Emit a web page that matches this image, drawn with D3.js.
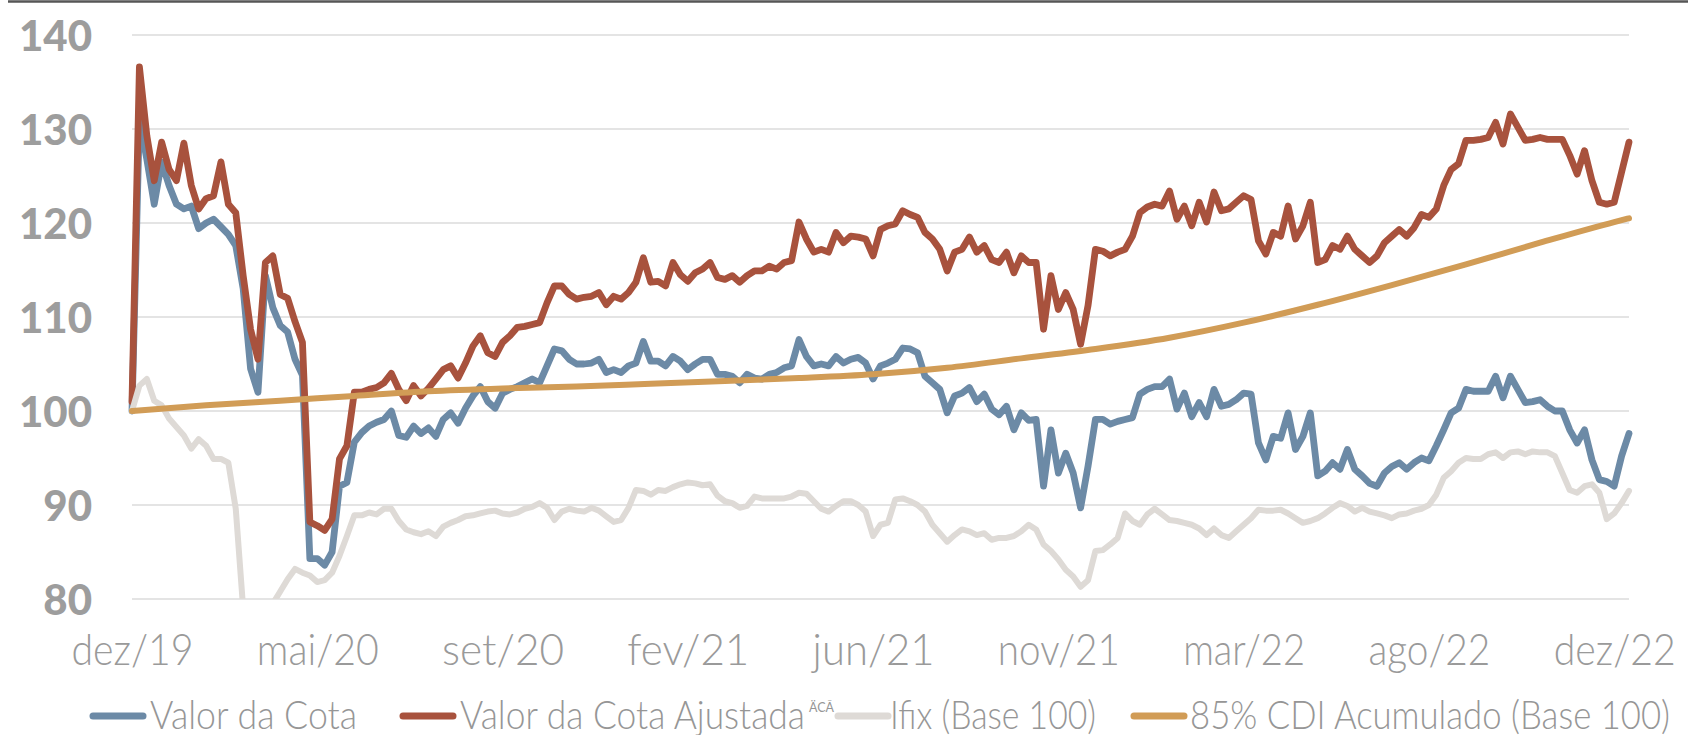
<!DOCTYPE html>
<html>
<head>
<meta charset="utf-8">
<script src="https://cdn.jsdelivr.net/npm/d3@7"></script>
<style>
  body { margin: 0; background: #fff; }
  text { font-family: Lato, "Open Sans", sans-serif; }
</style>
</head>
<body>
<svg id="chart" width="1688" height="735"></svg>
<script>
// series, one value per sample (203 samples, dez/19 .. dez/22)
var valorCota = [
  100, 131, 126.8, 122, 126.5, 124, 122, 121.5, 121.8, 119.4,
  120, 120.4, 119.6, 118.8, 117.6, 113, 104.5, 102, 114.4, 111,
  109.1, 108.4, 105.5, 103.8, 84.3, 84.3, 83.6, 85, 92, 92.4,
  96.7, 97.7, 98.4, 98.8, 99.1, 100, 97.4, 97.2, 98.4, 97.6,
  98.2, 97.3, 99.1, 99.8, 98.7, 100.3, 101.6, 102.6, 101, 100.3,
  101.9, 102.3, 102.6, 103, 103.4, 103, 104.8, 106.6, 106.4, 105.5,
  105, 105, 105.1, 105.5, 104.1, 104.4, 104.1, 104.8, 105.1, 107.4,
  105.3, 105.3, 104.8, 105.8, 105.3, 104.4, 105, 105.5, 105.5, 103.9,
  103.9, 103.7, 103, 103.9, 103.5, 103.4, 103.9, 104.1, 104.6, 104.8,
  107.6, 105.8, 104.8, 105, 104.8, 105.8, 105.1, 105.5, 105.7, 105.1,
  103.4, 104.8, 105.1, 105.5, 106.7, 106.6, 106.2, 103.7, 103, 102.3,
  99.8, 101.6, 101.9, 102.5, 101, 101.8, 100.2, 99.6, 100.5, 98,
  99.8, 99, 99.1, 92, 98, 93.4, 95.5, 93.4, 89.7, 94.1,
  99.1, 99.1, 98.6, 98.9, 99.1, 99.3, 101.8, 102.3, 102.6, 102.6,
  103.4, 100.2, 101.9, 99.4, 100.9, 99.4, 102.3, 100.5, 100.7, 101.2,
  101.9, 101.8, 96.6, 94.8, 97.3, 97.1, 99.8, 95.9, 97.3, 99.8,
  93.1, 93.6, 94.5, 93.8, 95.9, 93.8, 93.1, 92.3, 92, 93.4,
  94.1, 94.5, 93.8, 94.5, 95, 94.7, 96.3, 98, 99.8, 100.3,
  102.3, 102.1, 102.1, 102.1, 103.7, 101.4, 103.7, 102.3, 100.9, 101,
  101.2, 100.5, 100, 100, 98, 96.6, 98, 94.8, 92.7, 92.5,
  92, 95.2, 97.6
];
var cotaAjustada = [
  101, 136.6, 129.3, 124.5, 128.6, 125.7, 124.5, 128.5, 124, 121.5,
  122.6, 122.9, 126.5, 122, 121.1, 114.4, 108.7, 105.5, 115.8, 116.5,
  112.4, 112, 109.5, 107.3, 88.2, 87.8, 87.3, 88.5, 94.9, 96.3,
  102, 102, 102.3, 102.5, 103, 104, 102.3, 101.1, 102.7, 101.6,
  102.4, 103.4, 104.4, 104.8, 103.5, 105.1, 106.9, 108, 106.2, 105.8,
  107.3, 108, 108.9, 109, 109.2, 109.4, 111.5, 113.3, 113.3, 112.4,
  111.9, 112.1, 112.2, 112.6, 111.3, 112.2, 111.9, 112.6, 113.7, 116.3,
  113.7, 113.8, 113.3, 115.8, 114.5, 113.8, 114.7, 115.1, 115.8, 114.2,
  114, 114.4, 113.7, 114.4, 114.9, 114.9, 115.4, 115.1, 115.8, 116,
  120.1, 118.3, 116.9, 117.2, 116.9, 119, 117.9, 118.6, 118.5, 118.3,
  116.5, 119.3, 119.7, 119.9, 121.3, 120.9, 120.6, 119, 118.3, 117.2,
  114.9, 116.9, 117.2, 118.5, 116.9, 117.6, 116.1, 115.8, 116.9, 114.7,
  116.5, 115.8, 115.8, 108.7, 114.4, 110.8, 112.6, 110.8, 107.1, 111.2,
  117.2, 117, 116.5, 116.9, 117.2, 118.6, 121.1, 121.7, 122, 121.8,
  123.4, 120.4, 121.8, 119.7, 122.2, 120.1, 123.3, 121.3, 121.5, 122.2,
  122.9, 122.5, 118.1, 116.7, 119, 118.6, 121.8, 118.3, 119.7, 122.2,
  115.8, 116.1, 117.6, 117.2, 118.6, 117.2, 116.5, 115.8, 116.5, 117.9,
  118.6, 119.3, 118.6, 119.5, 120.9, 120.6, 121.5, 124, 125.7, 126.3,
  128.8, 128.8, 128.9, 129.1, 130.7, 128.4, 131.6, 130.2, 128.8, 128.9,
  129.1, 128.9, 128.9, 128.9, 127.2, 125.2, 127.7, 124.5, 122.2, 122,
  122.2, 125.4, 128.6
];
var ifix = [
  100, 102.7, 103.4, 101.1, 100.6, 99.2, 98.3, 97.4, 96, 97,
  96.3, 94.9, 94.9, 94.5, 89.6, 79, 75, 73, 74, 79.5,
  80.8, 82.1, 83.2, 82.8, 82.5, 81.8, 82, 82.8, 84.6, 86.7,
  88.9, 88.9, 89.2, 89, 89.6, 89.6, 88.3, 87.4, 87.1, 86.9,
  87.2, 86.7, 87.7, 88.1, 88.4, 88.8, 88.9, 89.1, 89.3, 89.4,
  89.1, 89, 89.2, 89.6, 89.8, 90.2, 89.7, 88.4, 89.3, 89.6,
  89.4, 89.3, 89.7, 89.4, 88.8, 88.2, 88.4, 89.7, 91.6, 91.5,
  91.1, 91.6, 91.5, 91.9, 92.2, 92.4, 92.3, 92.1, 92.2, 91,
  90.4, 90.2, 89.7, 89.9, 90.9, 90.7, 90.7, 90.7, 90.7, 90.9,
  91.3, 91.2, 90.4, 89.6, 89.3, 89.9, 90.4, 90.4, 90, 89.3,
  86.7, 87.9, 88.1, 90.6, 90.7, 90.4, 90, 89.3, 87.9, 87,
  86.1, 86.8, 87.4, 87.2, 86.8, 87, 86.3, 86.5, 86.5, 86.7,
  87.2, 87.9, 87.4, 85.8, 85.1, 84.2, 83.1, 82.4, 81.3, 82,
  85.1, 85.2, 85.8, 86.5, 89.1, 88.3, 87.9, 89, 89.6, 89,
  88.4, 88.3, 88.1, 87.9, 87.5, 86.8, 87.5, 86.8, 86.5, 87.2,
  87.9, 88.6, 89.5, 89.4, 89.4, 89.5, 89.1, 88.6, 88.1, 88.3,
  88.6, 89.1, 89.7, 90.2, 89.9, 89.3, 89.7, 89.3, 89.1, 88.9,
  88.6, 89, 89.1, 89.4, 89.6, 90, 91.1, 92.9, 93.6, 94.5,
  95, 94.9, 94.9, 95.4, 95.6, 95, 95.6, 95.7, 95.4, 95.7,
  95.6, 95.6, 95.2, 93.4, 91.6, 91.3, 92, 92.2, 91.3, 88.5,
  89.1, 90.2, 91.5
];
// 85% CDI read at every tenth sample
var cdiDias = [0, 10, 20, 30, 40, 50, 60, 70, 80, 90, 100, 110, 120, 130, 140, 150, 160, 170, 180, 190, 200, 202];
var cdiAcumulado = [100, 100.6, 101.1, 101.6, 102.1, 102.4, 102.6, 102.9, 103.2, 103.5, 103.9,
  104.6, 105.6, 106.6, 107.8, 109.4, 111.3, 113.4, 115.6, 117.9, 120.1, 120.5];

var mesLabels = ["dez/19", "mai/20", "set/20", "fev/21", "jun/21", "nov/21", "mar/22", "ago/22", "dez/22"];
var mesIdx = [0, 25, 50, 75, 100, 125, 150, 175, 200];
var yTicks = [80, 90, 100, 110, 120, 130, 140];
var serieNomes = ["Valor da Cota", "Valor da Cota Ajustada", "Ifix (Base 100)", "85% CDI Acumulado (Base 100)"];
var serieCores = ["#6C8AA6", "#A8523D", "#DEDAD6", "#D19C56"];

var margin = {left: 132, right: 59, top: 35, bottom: 136};
var width = 1688, height = 735;

var x = d3.scaleLinear()
    .domain([0, valorCota.length - 1])
    .range([margin.left, width - margin.right]);
var y = d3.scaleLinear()
    .domain([80, 140])
    .range([height - margin.bottom, margin.top]);

var svg = d3.select("#chart");

// top rule
svg.append("line")
    .attr("x1", 8).attr("x2", width)
    .attr("y1", 1.5).attr("y2", 1.5)
    .attr("stroke", "#565656")
    .attr("stroke-width", 2.5);

// gridlines
svg.append("g")
    .attr("class", "grid")
  .selectAll("line")
    .data(yTicks)
  .enter().append("line")
    .attr("x1", x.range()[0])
    .attr("x2", x.range()[1])
    .attr("y1", function(d) { return y(d); })
    .attr("y2", function(d) { return y(d); })
    .attr("stroke", "#E4E4E4")
    .attr("stroke-width", 2);

// y axis
var yAxis = d3.axisLeft(y).tickValues(yTicks).tickSize(0).tickPadding(0);
var gy = svg.append("g")
    .attr("transform", "translate(92,0)")
    .call(yAxis);
gy.select(".domain").remove();
gy.selectAll("text")
    .attr("dy", "0.36em")
    .style("font-family", "Lato, sans-serif")
    .style("font-weight", 900)
    .style("font-size", "42px")
    .attr("fill", "#9D9D9D");

// x axis
var xAxis = d3.axisBottom(x)
    .tickValues(mesIdx)
    .tickFormat(function(d, i) { return mesLabels[i]; })
    .tickSize(0);
var gx = svg.append("g")
    .attr("transform", "translate(0,665)")
    .call(xAxis);
gx.select(".domain").remove();
gx.selectAll("text")
    .attr("y", 0)
    .attr("dy", 0)
    .style("font-family", "Lato, sans-serif")
    .style("font-weight", 300)
    .style("font-size", "44px")
    .attr("textLength", 122)
    .attr("lengthAdjust", "spacingAndGlyphs")
    .attr("fill", "#9A9A9A");

// lines
svg.append("clipPath")
    .attr("id", "plotclip")
  .append("rect")
    .attr("x", margin.left - 10)
    .attr("y", margin.top - 10)
    .attr("width", width - margin.left - margin.right + 20)
    .attr("height", y(80) - margin.top + 10);

var line = d3.line()
    .x(function(d, i) { return x(i); })
    .y(function(d) { return y(d); });

var cdiLine = d3.line()
    .curve(d3.curveMonotoneX)
    .x(function(d, i) { return x(cdiDias[i]); })
    .y(function(d) { return y(d); });

var gLines = svg.append("g").attr("clip-path", "url(#plotclip)");
[valorCota, cotaAjustada, ifix].forEach(function(serie, k) {
  gLines.append("path")
      .datum(serie)
      .attr("fill", "none")
      .attr("stroke", serieCores[k])
      .attr("stroke-width", k == 2 ? 6 : 6.8)
      .attr("stroke-linejoin", "round")
      .attr("stroke-linecap", "round")
      .attr("d", line);
});
gLines.append("path")
    .datum(cdiAcumulado)
    .attr("fill", "none")
    .attr("stroke", serieCores[3])
    .attr("stroke-width", 6)
    .attr("stroke-linecap", "round")
    .attr("d", cdiLine);

// legend
var legendItems = [
  {sx: 93, tx: 150, w: 207},
  {sx: 403, tx: 460, w: 345},
  {sx: 838, tx: 890, w: 206},
  {sx: 1134, tx: 1190, w: 480}
];
var legend = svg.append("g").attr("class", "legend");
legendItems.forEach(function(it, k) {
  legend.append("line")
      .attr("x1", it.sx).attr("x2", it.sx + 50)
      .attr("y1", 716).attr("y2", 716)
      .attr("stroke", serieCores[k])
      .attr("stroke-width", 7)
      .attr("stroke-linecap", "round");
  legend.append("text")
      .attr("x", it.tx)
      .attr("y", 729)
      .attr("textLength", it.w)
      .attr("lengthAdjust", "spacingAndGlyphs")
      .style("font-family", "Lato, sans-serif")
      .style("font-weight", 300)
      .style("font-size", "40px")
      .attr("fill", "#969696")
      .text(serieNomes[k]);
});
legend.append("text")
    .attr("x", 809)
    .attr("y", 712)
    .attr("textLength", 25)
    .attr("lengthAdjust", "spacingAndGlyphs")
    .style("font-size", "13px")
    .attr("fill", "#969696")
    .text("ÄCĀ");
</script>
</body>
</html>
